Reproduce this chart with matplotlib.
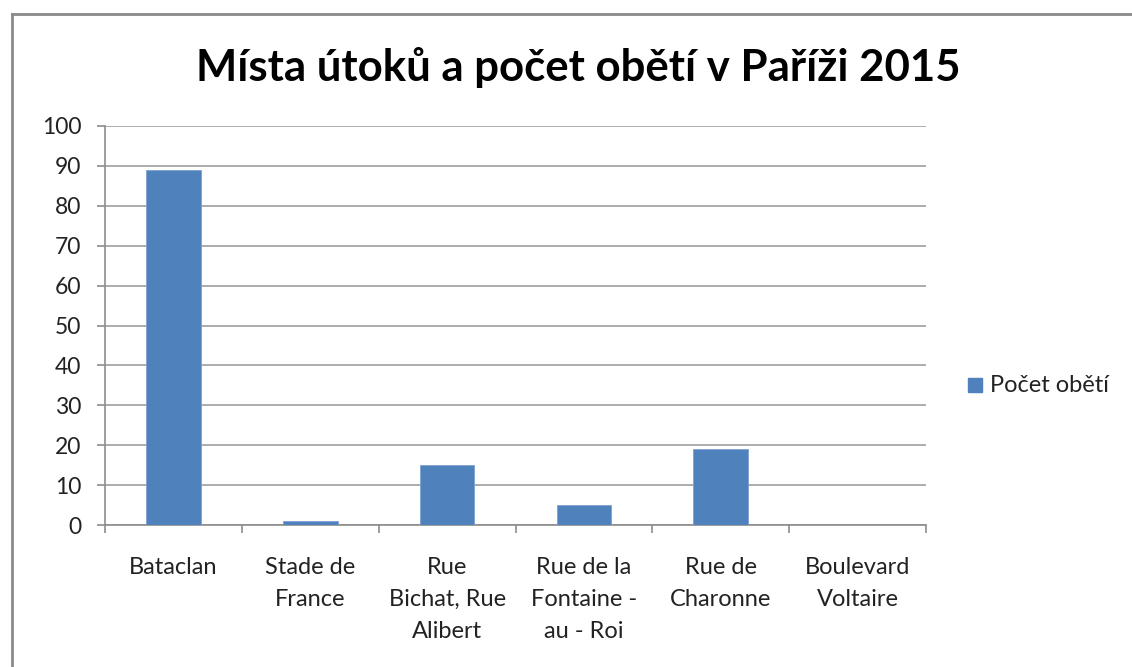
import matplotlib
matplotlib.use("Agg")
import matplotlib.pyplot as plt
from matplotlib.lines import Line2D
from matplotlib.patches import Rectangle

categories = ["Bataclan", "Stade de\nFrance", "Rue\nBichat, Rue\nAlibert",
              "Rue de la\nFontaine -\nau - Roi", "Rue de\nCharonne", "Boulevard\nVoltaire"]
values = [89, 1, 15, 5, 19, 0]
series_name = "Počet obětí"
title = "Místa útoků a počet obětí v Paříži 2015"
yticks = list(range(0, 101, 10))

W, H = 1132, 667
fig = plt.figure(figsize=(W / 100, H / 100), dpi=100)
plt.rcParams['font.family'] = ['Lato', 'DejaVu Sans']

ax = fig.add_axes([105 / W, 1 - 525 / H, (926 - 105) / W, (525 - 126) / H])

bar_color = "#4f81bd"
x = list(range(len(categories)))
ax.bar(x, values, width=0.4, color=bar_color, edgecolor="#7ea1cf", linewidth=0.6,
       label=series_name, zorder=3)

ax.set_xlim(-0.5, len(categories) - 0.5)
ax.set_ylim(0, 100)
ax.set_yticks(yticks)
ax.set_yticklabels([str(v) for v in yticks], fontsize=16.5, color="#222222")
ax.yaxis.grid(True, color="#a6a6a6", linewidth=1.3, zorder=0)
ax.set_axisbelow(True)

ax.set_xticks(x)
ax.set_xticklabels(categories, fontsize=17, color="#222222", linespacing=1.64, va="top")
ax.tick_params(axis="x", which="major", length=0, pad=23)
ax.set_xticks([i - 0.5 for i in range(len(categories) + 1)], minor=True)
ax.tick_params(axis="x", which="minor", length=6, width=1.2, color="#8c8c8c", direction="out")
ax.tick_params(axis="y", length=6, width=1.2, color="#8c8c8c", pad=11)

for s in ["top", "right"]:
    ax.spines[s].set_visible(False)
ax.spines["left"].set_color("#8c8c8c")
ax.spines["bottom"].set_color("#8c8c8c")
ax.spines["left"].set_linewidth(1.2)
ax.spines["bottom"].set_linewidth(1.2)

fig.text(578 / W, 1 - 68 / H, title, ha="center", va="center", fontsize=31.5,
         fontweight="bold", color="#000000")

# legend
fig.patches.append(Rectangle((968 / W, 1 - 392 / H), 14 / W, 14 / H,
                             transform=fig.transFigure, color=bar_color))
fig.text(990 / W, 1 - 386 / H, series_name, ha="left", va="center", fontsize=17, color="#222222")

# outer frame
fig.add_artist(Line2D([12 / W, 1.0], [1 - 14 / H, 1 - 14 / H], transform=fig.transFigure,
                      color="#8a8a8a", linewidth=2))
fig.add_artist(Line2D([12 / W, 12 / W], [1 - 14 / H, 0], transform=fig.transFigure,
                      color="#8a8a8a", linewidth=2))

fig.savefig("out.png", dpi=100)
